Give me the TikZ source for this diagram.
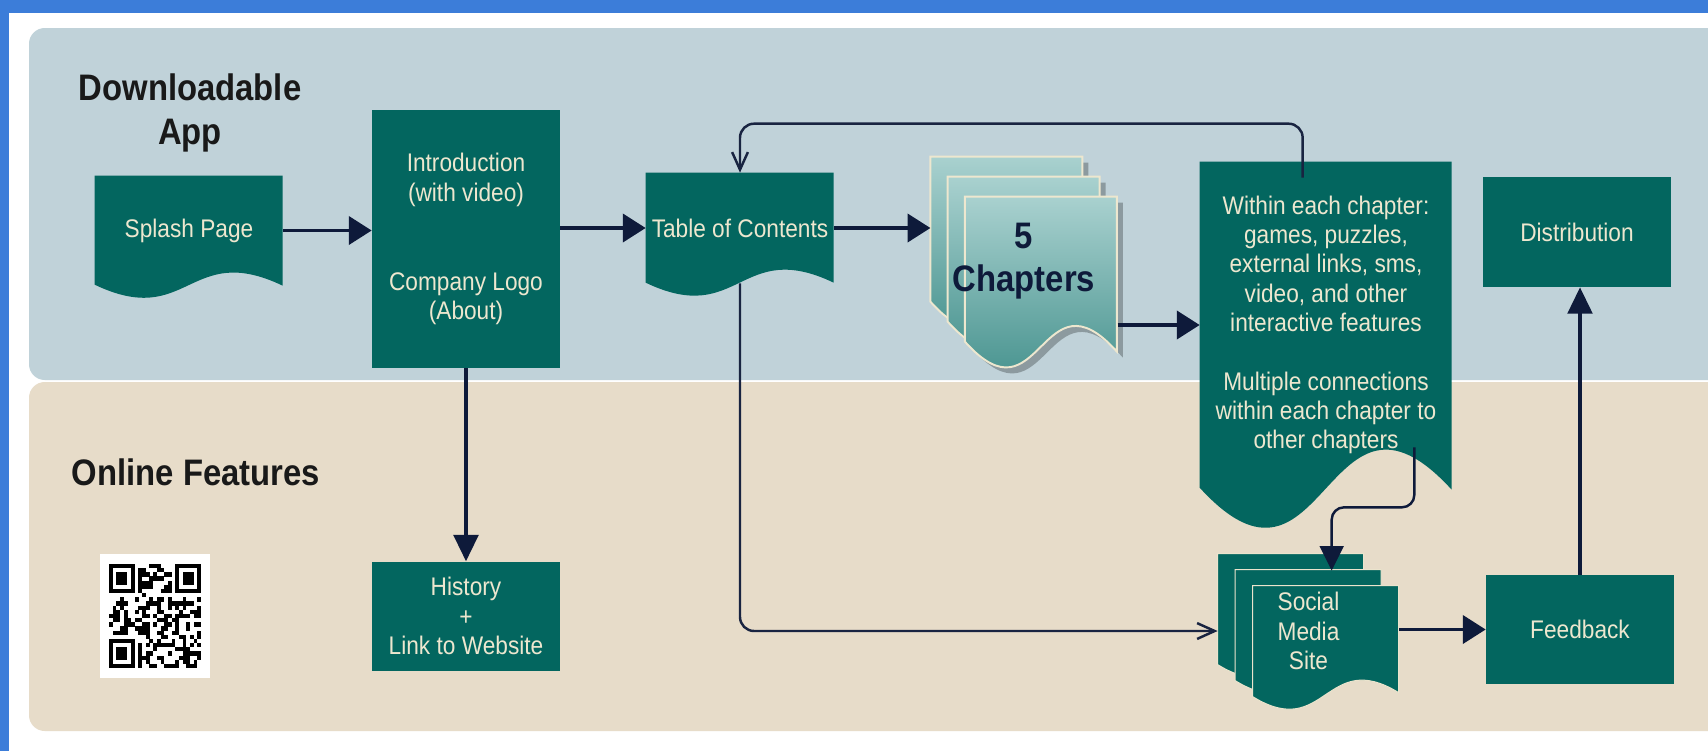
\documentclass[tikz,border=0pt]{standalone}
\usepackage{fontspec}
\setmainfont{Liberation Sans}[FakeStretch=0.89]
\usetikzlibrary{positioning, arrows.meta, calc}

\definecolor{frameblue}{HTML}{3C7DD9}
\definecolor{panelblue}{HTML}{C0D2D9}
\definecolor{panelbeige}{HTML}{E7DCC9}
\definecolor{boxteal}{HTML}{03665F}
\definecolor{cream}{HTML}{EDE7CF}
\definecolor{navy}{HTML}{0E1A3A}
\definecolor{shadowgray}{HTML}{8C9A9F}
\definecolor{chaptop}{HTML}{A9D1CF}
\definecolor{chapbot}{HTML}{2E837E}

\pgfdeclarelayer{panels}
\pgfdeclarelayer{shapes}
\pgfsetlayers{panels,shapes,main}

\newcommand\boxtxt{\fontsize{14.5pt}{16.7pt}\selectfont}
\newcommand\headtxt{\fontsize{21pt}{25pt}\selectfont\bfseries}
% corner, width, height, right drop, wave amplitude, style (all in px)
\newcommand\docpath[6]{\path[#6] (#1) -- ++(#2,0) -- ++(0,{#3+(#4)})
  .. controls +({0-#2/2},{0-#5}) and +({#2/2},{#5}) .. ++({0-#2},{0-(#4)}) -- cycle;}

\begin{document}
\begin{tikzpicture}[x=0.02cm, y=-0.02cm,
    box/.style={rectangle, fill=boxteal, text=cream, align=center, inner sep=0pt, font=\boxtxt},
    docbox/.style={rectangle, text=cream, align=center, inner sep=0pt, font=\boxtxt},
    head/.style={align=center, font=\headtxt, text=black!90},
    stackbox/.style={rectangle, align=center, inner sep=0pt},
    arr/.style={-{Triangle[length=13pt,width=16pt]}, navy, line width=2pt},
    arrv/.style={-{Triangle[length=15pt,width=14pt]}, navy, line width=2pt},
    thinarr/.style={-{Straight Barb[length=10pt,width=9pt]}, navy!90!gray, line width=1.4pt, rounded corners=8pt},
    linkarr/.style={-{Triangle[length=14pt,width=13.5pt]}, navy, line width=1.4pt, rounded corners=7pt},
  ]
  \useasboundingbox (0,0) rectangle (1708,751);

  \begin{pgfonlayer}{panels}
    \fill[white] (0,0) rectangle (1708,751);
    \fill[frameblue] (0,0) rectangle (1708,13);
    \fill[frameblue] (0,0) rectangle (9,751);
    \fill[panelblue, rounded corners=9pt] (29,28) rectangle (1740,380);
    \fill[panelbeige, rounded corners=9pt] (29,382) rectangle (1740,731);
  \end{pgfonlayer}

  \node[head] (apptitle) at (190,113) {Downloadable\\App};
  \node[head] (onltitle) at (196,472) {Online Features};

  \node[docbox, minimum width=3.76cm, minimum height=2.18cm] (splash) at (189,230.5) {Splash Page};
  \node[box, minimum width=3.76cm, minimum height=5.16cm] (intro) at (466,239)
    {Introduction\\(with video)\\[34pt]Company Logo\\(About)};
  \node[box, minimum width=3.76cm, minimum height=2.18cm, below=3.86cm of intro] (history)
    {History\\+\\Link to Website};
  \node[docbox, minimum width=3.76cm, minimum height=2.2cm] (toc) at (740,228) {Table of Contents};
  \node[docbox, minimum width=5.04cm, minimum height=6.52cm] (within) at (1326,325)
    {Within each chapter:\\games, puzzles,\\external links, sms,\\video, and other\\interactive features\\[16.7pt]Multiple connections\\within each chapter to\\other chapters};
  \node[box, minimum width=3.76cm, minimum height=2.2cm] (distribution) at (1577,232) {Distribution};
  \node[box, minimum width=3.76cm, minimum height=2.18cm] (feedback) at (1580,629.5) {Feedback};

  \node[stackbox, minimum width=3.73cm, minimum height=4.16cm, text=navy,
        font=\fontsize{21pt}{24.4pt}\selectfont\bfseries] (chap) at (1024,261) {5\\Chapters};
  \node[stackbox, minimum width=3.62cm, minimum height=3.08cm, text=cream, font=\boxtxt] (social)
    at (1308.5,631) {Social\\Media\\Site};

  \node[fill=white, minimum width=2.2cm, minimum height=2.48cm, inner sep=0pt] (qr) at (155,616) {};
  \foreach \a/\b in {0/0, 18/0, 0/18} {
    \fill[black] ({109+3.68*\a},{564+4.16*\b}) rectangle +(25.76,29.12);
    \fill[white] ({109+3.68*(\a+1)},{564+4.16*(\b+1)}) rectangle +(18.4,20.8);
    \fill[black] ({109+3.68*(\a+2)},{564+4.16*(\b+2)}) rectangle +(11.04,12.48);
  }
  \pgfmathsetseed{4217}
  \foreach \i in {0,...,24} {
    \foreach \j in {0,...,24} {
      \pgfmathtruncatemacro\qrfind{(\i<8 && \j<8) || (\i>16 && \j<8) || (\i<8 && \j>16)}
      \pgfmathtruncatemacro\qron{rnd<0.5}
      \ifnum\qrfind=0 \ifnum\qron=1
        \fill[black] ({109+3.68*\i},{564+4.16*\j}) rectangle +(3.78,4.26);
      \fi\fi
    }
  }

  \begin{pgfonlayer}{shapes}
    \docpath{splash.north west}{188}{109}{1}{45}{fill=boxteal}
    \docpath{toc.north west}{188}{110}{0}{45}{fill=boxteal}
    \docpath{within.north west}{252}{326}{2}{138}{fill=boxteal}
    \foreach \k in {0,1,2} {
      \docpath{$(chap.north west)+(17.25*\k+6,20*\k+6)$}{152}{145}{10}{85}{fill=shadowgray}
      \docpath{$(chap.north west)+(17.25*\k,20*\k)$}{152}{145}{10}{85}{top color=chaptop, bottom color=chapbot, draw=cream, line width=1.1pt}
    }
    \foreach \k in {0,1,2} {
      \docpath{$(social.north west)+(17.5*\k,16*\k)$}{146}{111}{-4}{45}{fill=boxteal, draw=cream!70!panelbeige, line width=0.6pt}
    }
  \end{pgfonlayer}

  \draw[arr] (splash.east) -- (intro.west |- splash.east);
  \draw[arr] (intro.east |- toc.west) -- (toc.west);
  \draw[arr] (toc.east) -- (chap.west |- toc.east);
  \draw[arr] (chap.east |- within.west) -- (within.west);
  \draw[arrv] (intro.south) -- (history.north);
  \draw[arr] (social.east |- feedback.west) -- (feedback.west);
  \draw[arrv] (feedback.north) -- (feedback.north |- distribution.south);
  \draw[thinarr] ($(within.north west)+(103,16)$) -- ++(0,-54) -| (toc.north);
  \draw[thinarr] (toc.south) |- (social.west);
  \draw[linkarr] ($(within.south east)+(-38,-41)$) -- ++(0,60) -| ($(social.north west)+(114,17)$);
\end{tikzpicture}
\end{document}
